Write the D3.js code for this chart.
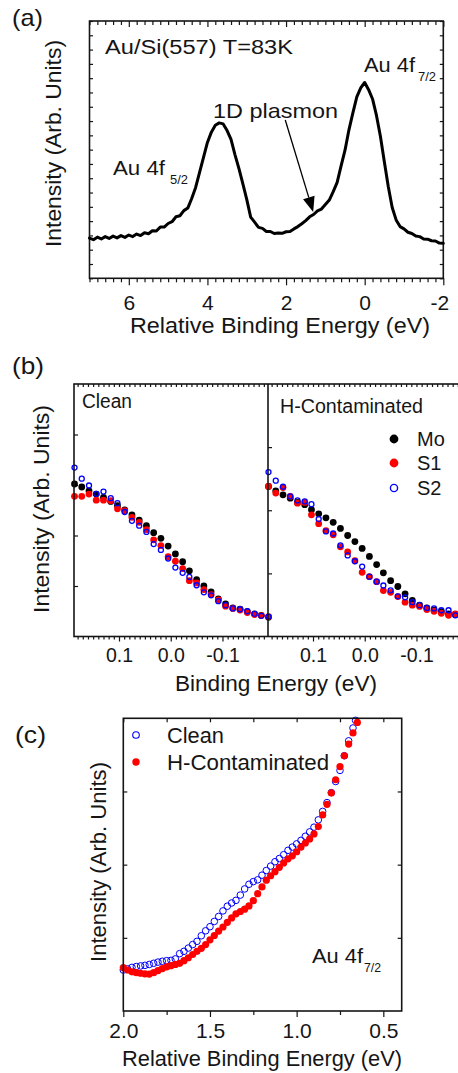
<!DOCTYPE html>
<html><head><meta charset="utf-8">
<script src="https://cdn.jsdelivr.net/npm/d3@7"></script>
<style>
body{margin:0;background:#fff}
text{font-family:"Liberation Sans",Arial,Helvetica,sans-serif;fill:#151515}
</style></head>
<body><svg id="fig" width="458" height="1073"></svg>
<script>
// ---------------- DATA ----------------
// Panel (a): Au 4f core level spectrum
const aEnergy = [7.0,6.9,6.8,6.7,6.6,6.5,6.4,6.3,6.2,6.1,6.0,5.9,5.8,5.7,5.6,5.5,5.4,5.3,5.2,5.1,
  5.0,4.9,4.8,4.7,4.6,4.5,4.4,4.3,4.2,4.1,4.0,3.9,3.8,3.7,3.6,3.5,3.4,3.3,3.2,3.1,
  3.0,2.9,2.8,2.7,2.6,2.5,2.4,2.3,2.2,2.1,2.0,1.9,1.8,1.7,1.6,1.5,1.4,1.3,1.2,1.1,
  1.0,0.9,0.8,0.7,0.6,0.5,0.4,0.3,0.2,0.1,0.0,-0.1,-0.2,-0.3,-0.4,-0.5,-0.6,-0.7,-0.8,-0.9,
  -1.0,-1.1,-1.2,-1.3,-1.4,-1.5,-1.6,-1.7,-1.8,-1.9,-2.0];
const aIntensity = [15.6,15.0,16.0,15.3,16.2,15.5,16.4,15.7,16.6,15.9,
  16.8,16.2,17.2,16.6,17.7,17.3,18.5,18.4,19.9,19.9,
  21.3,22.0,23.9,24.3,26.3,27.3,31.0,35.3,41.2,47.0,
  52.8,56.8,59.5,60.4,60.0,57.4,54.0,48.1,42.7,36.8,
  30.7,23.8,21.8,19.8,19.4,18.2,18.2,17.4,17.6,17.5,
  18.1,18.2,19.2,20.1,21.2,22.4,23.9,24.8,26.2,26.9,
  28.7,30.4,33.7,37.3,43.7,49.8,57.7,64.3,70.5,74.0,
  76.1,73.3,69.7,63.3,55.2,45.3,35.7,27.5,22.7,20.1,
  19.2,17.9,17.4,16.4,16.2,15.3,15.2,14.6,14.5,13.7,13.6];
const aMajorTicks = [6,4,2,0,-2];
const aMajorLabels = ["6","4","2","0","-2"];
const aArrowFrom = [2.02,61.5];   // [energy, intensity]
const aArrowTo = [1.31,25.8];

// Panel (b): near-Fermi-edge spectra
const bEnergy = [0.186,0.172,0.158,0.144,0.130,0.116,0.103,0.089,0.075,0.061,0.047,0.033,0.019,0.005,
  -0.009,-0.023,-0.036,-0.050,-0.064,-0.078,-0.092,-0.106,-0.120,-0.134,-0.148,-0.162,-0.175,-0.189];
const cleanMo = [60.4,59.2,57.7,56.4,55.1,53.5,51.8,50.1,48.2,46.1,43.9,41.1,38.9,35.8,32.7,29.6,26.0,22.5,20.0,17.7,14.9,12.9,11.3,10.8,9.8,9.0,8.4,7.6];
const cleanS1 = [55.5,55.5,56.4,54.0,54.0,53.8,50.6,49.8,47.2,45.2,42.3,38.3,36.0,31.6,29.8,26.9,22.1,21.2,18.6,16.6,14.5,12.0,11.1,10.5,9.5,8.7,8.3,7.9];
const cleanS2 = [66.9,62.5,59.8,56.5,57.4,54.8,52.8,49.3,45.8,43.9,41.4,36.6,34.3,30.9,27.3,25.2,23.6,20.3,17.5,16.3,14.0,12.4,11.1,10.8,10.0,9.0,8.2,7.9];
const hMo = [59.4,57.7,56.1,54.8,53.1,52.2,50.2,48.6,47.0,45.2,42.8,40.0,37.6,34.9,31.7,28.5,25.2,22.1,19.8,16.9,14.3,12.4,11.3,10.4,9.8,9.0,8.7];
const hS1 = [59.4,56.8,59.0,55.5,52.8,53.1,48.2,44.7,41.9,40.3,35.5,33.5,30.0,25.4,23.7,21.7,18.2,17.5,15.8,13.6,12.4,11.9,10.7,10.0,9.2,8.4,9.0];
const hS2 = [65.1,61.7,59.3,55.5,53.9,53.5,52.4,46.5,41.6,40.8,36.1,32.1,29.8,27.7,23.7,21.7,20.2,18.3,15.9,15.5,13.6,12.4,11.3,11.1,10.4,10.4,8.4];
const bMajorTicks = [0.1,0.0,-0.1];
const bMajorLabels = ["0.1","0.0","-0.1"];
const bLeftYTicks = [20,40,60,80];
const bRightYTicks = [25,50,75];
const bSeries = ["Mo","S1","S2"];

// Panel (c): Au 4f7/2 low-energy tail
const cEnergyClean = [2.000,1.975,1.950,1.925,1.900,1.875,1.850,1.825,1.800,1.775,
  1.750,1.725,1.700,1.675,1.650,1.625,1.600,1.575,1.550,1.525,
  1.500,1.475,1.450,1.425,1.400,1.375,1.350,1.325,1.300,1.275,
  1.250,1.225,1.200,1.175,1.150,1.125,1.100,1.075,1.050,1.025,
  1.000,0.975,0.950,0.925,0.900,0.875,0.850,0.825,0.800,0.775,
  0.750,0.725,0.700,0.675,0.660];
const cClean = [14.0,14.4,14.9,15.2,15.4,15.6,15.9,16.3,16.7,17.0,
  17.2,17.3,17.8,19.6,20.4,21.5,22.7,23.8,25.7,27.4,
  28.8,30.6,32.3,34.2,35.8,36.9,37.8,39.6,41.7,43.3,
  44.2,44.8,46.4,48.0,49.5,51.0,52.1,53.4,54.9,56.0,
  57.1,58.3,59.7,61.2,62.8,65.3,68.2,71.2,74.6,78.4,
  82.2,87.2,92.3,96.7,99.3];
const cEnergyH = [2.000,1.975,1.950,1.925,1.900,1.875,1.850,1.825,1.800,1.775,
  1.750,1.725,1.700,1.675,1.650,1.625,1.600,1.575,1.550,1.525,
  1.500,1.475,1.450,1.425,1.400,1.375,1.350,1.325,1.300,1.275,
  1.250,1.225,1.200,1.175,1.150,1.125,1.100,1.075,1.050,1.025,
  1.000,0.975,0.950,0.925,0.900,0.875,0.850,0.825,0.800,0.775,
  0.750,0.725,0.700,0.675,0.650];
const cH = [14.8,14.0,13.4,13.1,12.9,12.7,12.6,13.1,13.8,14.5,
  15.1,15.5,15.9,16.3,17.2,18.2,19.3,20.4,21.4,22.7,
  24.3,25.8,27.3,28.7,30.3,31.8,33.2,34.0,34.8,35.9,
  37.7,40.1,42.4,44.7,46.2,47.6,49.1,50.6,52.0,53.0,
  54.4,56.0,57.4,58.8,60.5,63.0,67.0,70.6,74.5,79.0,
  83.5,87.2,91.2,95.0,98.6];
const cMajorTicks = [2.0,1.5,1.0,0.5];
const cMajorLabels = ["2.0","1.5","1.0","0.5"];
const cMinorTicks = [1.75,1.25,0.75];
const cYTicks = [25,50,75];
const cSeries = ["Clean","H-Contaminated"];

// ---------------- DRAWING ----------------
const svg = d3.select("#fig");
const INK = "#151515";

function label(x, y, str, size, o = {}) {
  const t = svg.append("text").attr("font-size", size).text(str);
  if (o.rotate) t.attr("transform", `translate(${x},${y}) rotate(-90)`);
  else t.attr("x", x).attr("y", y);
  if (o.anchor) t.attr("text-anchor", o.anchor);
  if (o.len) t.attr("textLength", o.len).attr("lengthAdjust", "spacingAndGlyphs");
  return t;
}
function styleAxis(g) {
  g.select(".domain").remove();
  g.selectAll(".tick line").attr("stroke", INK).attr("stroke-width", 1.2);
  return g;
}
function frame(x0, y0, x1, y1) {
  svg.append("rect").attr("x", x0).attr("y", y0).attr("width", x1 - x0).attr("height", y1 - y0)
    .attr("fill", "none").attr("stroke", INK).attr("stroke-width", 1.6);
}

// ===== Panel (a) =====
const ax = d3.scaleLinear().domain([7, -2]).range([89.5, 443.3]);
const ay = d3.scaleLinear().domain([0, 100]).range([278.3, 21]);
const aMinor = d3.range(7, -2.001, -0.2).map(v => +v.toFixed(2)).filter(v => !aMajorTicks.includes(v));
const aYTicks = d3.range(0, 100.01, 100 / 18);

styleAxis(svg.append("g").attr("transform", "translate(0,278.3)")
  .call(d3.axisBottom(ax).tickValues(aMinor).tickSize(4).tickFormat("")));
const aBot = styleAxis(svg.append("g").attr("transform", "translate(0,278.3)")
  .call(d3.axisBottom(ax).tickValues(aMajorTicks).tickSize(7).tickFormat((d, i) => aMajorLabels[i])));
aBot.selectAll("text").attr("font-size", 21).attr("y", 31.5).attr("dy", 0)
  .attr("font-family", '"Liberation Sans",Arial,sans-serif').attr("fill", INK)
  .attr("dx", (d, i) => aMajorLabels[i].startsWith("-") ? -4 : 0);
styleAxis(svg.append("g").attr("transform", "translate(0,21)")
  .call(d3.axisTop(ax).tickValues(aMinor).tickSize(-4).tickFormat("")));
styleAxis(svg.append("g").attr("transform", "translate(0,21)")
  .call(d3.axisTop(ax).tickValues(aMajorTicks).tickSize(-6).tickFormat("")));
styleAxis(svg.append("g").attr("transform", "translate(89.5,0)")
  .call(d3.axisLeft(ay).tickValues(aYTicks).tickSize(-3.5).tickFormat("")));
styleAxis(svg.append("g").attr("transform", "translate(443.3,0)")
  .call(d3.axisRight(ay).tickValues(aYTicks).tickSize(-3.5).tickFormat("")));
frame(89.5, 21, 443.3, 278.3);

const aPts = aEnergy.map((e, i) => [e, aIntensity[i]]);
svg.append("path").datum(aPts)
  .attr("d", d3.line().x(d => ax(d[0])).y(d => ay(d[1])))
  .attr("fill", "none").attr("stroke", "#000").attr("stroke-width", 3)
  .attr("stroke-linejoin", "round").attr("stroke-linecap", "round");

// arrow
{
  const x0 = ax(aArrowFrom[0]), y0 = ay(aArrowFrom[1]);
  const x1 = ax(aArrowTo[0]), y1 = ay(aArrowTo[1]);
  const dx = x1 - x0, dy = y1 - y0, L = Math.hypot(dx, dy), ux = dx / L, uy = dy / L;
  const hl = 15, hw = 6;
  const bx = x1 - ux * hl, by2 = y1 - uy * hl;
  svg.append("line").attr("x1", x0).attr("y1", y0).attr("x2", bx).attr("y2", by2)
    .attr("stroke", "#000").attr("stroke-width", 1.3);
  svg.append("path").attr("d", `M${x1},${y1}L${bx - uy * hw},${by2 + ux * hw}L${bx + uy * hw},${by2 - ux * hw}Z`)
    .attr("fill", "#000");
}

label(12, 26, "(a)", 24, {len: 31});
label(105, 54, "Au/Si(557) T=83K", 20, {len: 188});
label(364, 72, "Au 4f", 20, {len: 51});
label(418, 81, "7/2", 13, {len: 18});
label(213, 118, "1D plasmon", 21, {len: 125});
label(113, 175, "Au 4f", 20, {len: 52});
label(170, 184, "5/2", 13, {len: 18});
label(61, 143.5, "Intensity (Arb. Units)", 22, {rotate: true, anchor: "middle", len: 207});
label(280, 333, "Relative Binding Energy (eV)", 22, {anchor: "middle", len: 300});

// ===== Panel (b) =====
const bxL = d3.scaleLinear().domain([0.187, -0.188]).range([74, 268]);
const bxR = d3.scaleLinear().domain([0.187, -0.188]).range([268, 462]);
const by = d3.scaleLinear().domain([0, 100]).range([636.5, 384]);
const bMinor = d3.range(-18, 19, 1).map(v => v / 100).filter(v => Math.abs(v * 10 - Math.round(v * 10)) > 1e-6);

[[bxL, bLeftYTicks, 74, [cleanMo, cleanS1, cleanS2]], [bxR, bRightYTicks, 268, [hMo, hS1, hS2]]].forEach(([xs, yt, xl, ser]) => {
  styleAxis(svg.append("g").attr("transform", "translate(0,636.5)")
    .call(d3.axisBottom(xs).tickValues(bMinor).tickSize(3).tickFormat("")));
  const g = styleAxis(svg.append("g").attr("transform", "translate(0,636.5)")
    .call(d3.axisBottom(xs).tickValues(bMajorTicks).tickSize(5).tickFormat((d, i) => bMajorLabels[i])));
  g.selectAll("text").attr("font-size", 19.5).attr("y", 25.5).attr("dy", 0)
    .attr("font-family", '"Liberation Sans",Arial,sans-serif').attr("fill", INK);
  styleAxis(svg.append("g").attr("transform", "translate(0,384)")
    .call(d3.axisTop(xs).tickValues(bMinor.concat(bMajorTicks)).tickSize(-3).tickFormat("")));
  styleAxis(svg.append("g").attr("transform", `translate(${xl},0)`)
    .call(d3.axisLeft(by).tickValues(yt).tickSize(-4).tickFormat("")));

  const [mo, s1, s2] = ser;
  const gd = svg.append("g");
  gd.selectAll(".mo").data(mo).join("circle").attr("cx", (d, i) => xs(bEnergy[i])).attr("cy", d => by(d))
    .attr("r", 3.4).attr("fill", "#000");
  gd.selectAll(".s1").data(s1).join("circle").attr("cx", (d, i) => xs(bEnergy[i])).attr("cy", d => by(d))
    .attr("r", 3.4).attr("fill", "#ff0000");
  gd.selectAll(".s2").data(s2).join("circle").attr("cx", (d, i) => xs(bEnergy[i])).attr("cy", d => by(d))
    .attr("r", 2.5).attr("fill", "none").attr("stroke", "#0000ff").attr("stroke-width", 1.3);
});
frame(74, 384, 462, 636.5);
svg.append("line").attr("x1", 268).attr("x2", 268).attr("y1", 384).attr("y2", 636.5)
  .attr("stroke", INK).attr("stroke-width", 1.6);

// legend (b)
const bLegY = [439, 463, 488];
svg.append("circle").attr("cx", 394).attr("cy", bLegY[0]).attr("r", 4.4).attr("fill", "#000");
svg.append("circle").attr("cx", 394).attr("cy", bLegY[1]).attr("r", 4.4).attr("fill", "#ff0000");
svg.append("circle").attr("cx", 394).attr("cy", bLegY[2]).attr("r", 3.6).attr("fill", "none")
  .attr("stroke", "#0000ff").attr("stroke-width", 1.4);
bSeries.forEach((s, i) => label(417, bLegY[i] + 7.2, s, 20));

label(12, 373.5, "(b)", 24, {len: 32});
label(82, 408, "Clean", 20, {len: 50});
label(280, 412.5, "H-Contaminated", 20, {len: 143});
label(48.5, 509, "Intensity (Arb. Units)", 22, {rotate: true, anchor: "middle", len: 208});
label(276, 690.5, "Binding Energy (eV)", 22, {anchor: "middle", len: 202});

// ===== Panel (c) =====
const cx = d3.scaleLinear().domain([2.0, 0.394]).range([123.3, 401.7]);
const cy = d3.scaleLinear().domain([0, 100]).range([1011, 718.3]);

styleAxis(svg.append("g").attr("transform", "translate(0,1011)")
  .call(d3.axisBottom(cx).tickValues(cMinorTicks).tickSize(4).tickFormat("")));
const cBot = styleAxis(svg.append("g").attr("transform", "translate(0,1011)")
  .call(d3.axisBottom(cx).tickValues(cMajorTicks).tickSize(6).tickFormat((d, i) => cMajorLabels[i])));
cBot.selectAll("text").attr("font-size", 21).attr("y", 27).attr("dy", 0)
  .attr("font-family", '"Liberation Sans",Arial,sans-serif').attr("fill", INK);
styleAxis(svg.append("g").attr("transform", "translate(0,718.3)")
  .call(d3.axisTop(cx).tickValues(cMajorTicks.concat(cMinorTicks)).tickSize(-4).tickFormat("")));
styleAxis(svg.append("g").attr("transform", "translate(123.3,0)")
  .call(d3.axisLeft(cy).tickValues(cYTicks).tickSize(-4).tickFormat("")));
styleAxis(svg.append("g").attr("transform", "translate(401.7,0)")
  .call(d3.axisRight(cy).tickValues(cYTicks).tickSize(-4).tickFormat("")));

svg.append("g").selectAll("circle").data(cClean).join("circle")
  .attr("cx", (d, i) => cx(cEnergyClean[i])).attr("cy", d => cy(d))
  .attr("r", 3.3).attr("fill", "none").attr("stroke", "#0000ff").attr("stroke-width", 1);
svg.append("g").selectAll("circle").data(cH).join("circle")
  .attr("cx", (d, i) => cx(cEnergyH[i])).attr("cy", d => cy(d))
  .attr("r", 3.6).attr("fill", "#ff0000");
frame(123.3, 718.3, 401.7, 1011);

// legend (c)
svg.append("circle").attr("cx", 136).attr("cy", 735).attr("r", 3.3).attr("fill", "none")
  .attr("stroke", "#0000ff").attr("stroke-width", 1.1);
svg.append("circle").attr("cx", 136).attr("cy", 762).attr("r", 3.7).attr("fill", "#ff0000");
label(167, 743, cSeries[0], 22, {len: 57});
label(167, 770, cSeries[1], 22, {len: 162});

label(15, 742.5, "(c)", 24, {len: 31});
label(312, 963, "Au 4f", 20, {len: 51});
label(364, 972, "7/2", 13, {len: 17});
label(105.5, 862, "Intensity (Arb. Units)", 22, {rotate: true, anchor: "middle", len: 200});
label(262, 1066, "Relative Binding Energy (eV)", 22, {anchor: "middle", len: 280});
</script>
</body></html>
